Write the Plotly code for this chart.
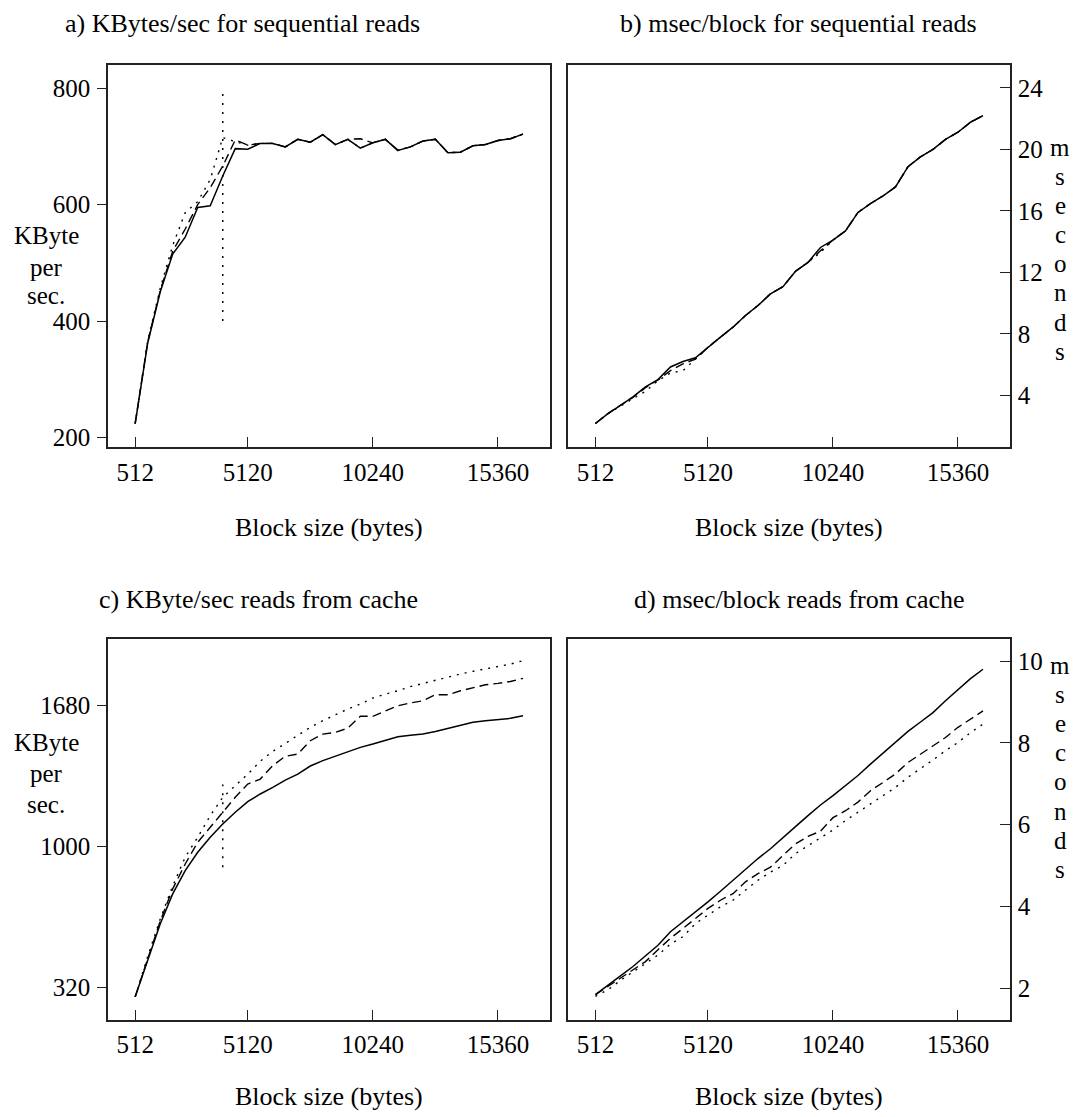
import plotly.graph_objects as go

# ---------------- data ----------------
block_sizes = [512, 1024, 1536, 2048, 2560, 3072, 3584, 4096, 4608, 5120, 5632, 6144,
               6656, 7168, 7680, 8192, 8704, 9216, 9728, 10240, 10752, 11264, 11776,
               12288, 12800, 13312, 13824, 14336, 14848, 15360, 15872, 16384]

# a) KBytes/sec for sequential reads
a_solid = [224, 362, 450, 515, 544, 595, 598, 649, 696, 695, 705, 705, 699, 712, 707, 720,
           703, 712, 697, 706, 712, 693, 699, 709, 712, 689, 690, 701, 703, 710, 713, 721]
a_dash = [224, 364, 452, 520, 558, 600, 629, 666, 711, 702, 705, 705, 699, 712, 707, 720,
          703, 712, 713, 706, 712, 693, 699, 709, 712, 689, 690, 701, 703, 710, 713, 721]
a_dot = [224, 366, 456, 530, 586, 605, 643, 715, 708, 702, 705, 705, 699, 712, 707, 720,
         703, 712, 697, 706, 712, 693, 699, 709, 712, 689, 690, 701, 703, 710, 713, 721]

# b) msec/block for sequential reads
b_solid = [2.16, 2.81, 3.35, 3.89, 4.54, 5.02, 5.84, 6.20, 6.44, 7.14, 7.78, 8.43, 9.19, 9.84,
           10.60, 11.07, 12.07, 12.65, 13.62, 14.10, 14.70, 15.90, 16.48, 16.97, 17.56, 18.88,
           19.52, 20.00, 20.65, 21.12, 21.77, 22.20]
b_dash = [2.16, 2.81, 3.35, 3.86, 4.50, 5.00, 5.60, 6.05, 6.35, 7.12, 7.78, 8.43, 9.19, 9.84,
          10.60, 11.07, 12.07, 12.65, 13.40, 14.10, 14.70, 15.90, 16.48, 16.97, 17.56, 18.88,
          19.52, 20.00, 20.65, 21.12, 21.77, 22.20]
b_dot = [2.16, 2.80, 3.30, 3.80, 4.25, 4.95, 5.45, 5.60, 6.35, 7.12, 7.78, 8.43, 9.19, 9.84,
         10.60, 11.07, 12.07, 12.65, 13.30, 14.10, 14.70, 15.90, 16.48, 16.97, 17.56, 18.88,
         19.52, 20.00, 20.65, 21.12, 21.77, 22.20]

# c) KByte/sec reads from cache
c_solid = [275, 450, 627, 772, 884, 973, 1045, 1109, 1166, 1217, 1254, 1286, 1321, 1350, 1389,
           1415, 1436, 1458, 1479, 1495, 1514, 1530, 1538, 1543, 1556, 1571, 1584, 1600, 1608,
           1612, 1619, 1632]
c_dash = [275, 460, 640, 796, 916, 1021, 1093, 1170, 1238, 1302, 1326, 1391, 1436, 1447, 1511,
          1543, 1551, 1572, 1629, 1629, 1656, 1680, 1693, 1704, 1733, 1733, 1752, 1768, 1781,
          1788, 1797, 1812]
c_dot = [275, 470, 650, 810, 949, 1045, 1149, 1238, 1294, 1350, 1412, 1460, 1498, 1539, 1576,
         1608, 1637, 1664, 1688, 1717, 1736, 1752, 1772, 1788, 1804, 1817, 1833, 1846, 1857,
         1868, 1881, 1897]

# d) msec/block reads from cache
d_solid = [1.84, 2.08, 2.30, 2.53, 2.79, 3.05, 3.38, 3.62, 3.87, 4.11, 4.37, 4.64, 4.92, 5.17,
           5.41, 5.67, 5.95, 6.22, 6.48, 6.71, 6.95, 7.20, 7.48, 7.75, 8.01, 8.28, 8.51, 8.74,
           9.03, 9.31, 9.57, 9.80]
d_dash = [1.84, 2.04, 2.24, 2.45, 2.65, 2.94, 3.22, 3.46, 3.70, 3.95, 4.15, 4.31, 4.60, 4.80,
          4.96, 5.25, 5.53, 5.71, 5.84, 6.17, 6.34, 6.55, 6.83, 7.03, 7.24, 7.52, 7.73, 7.93,
          8.13, 8.38, 8.58, 8.78]
d_dot = [1.80, 1.96, 2.19, 2.40, 2.61, 2.81, 3.08, 3.26, 3.58, 3.79, 3.99, 4.15, 4.40, 4.64,
         4.84, 5.00, 5.29, 5.49, 5.69, 5.87, 6.10, 6.30, 6.51, 6.71, 6.91, 7.16, 7.36, 7.58,
         7.81, 8.01, 8.25, 8.46]

# vertical dotted marker at 4096 bytes
marker_x = [4096, 4096]
marker_a = [400, 800]
marker_c = [900, 1300]

x_ticks = [512, 5120, 10240, 15360]
x_ticktext = ["512", "5120", "10240", "15360"]
a_ticks = [200, 400, 600, 800]
b_ticks = [4, 8, 12, 16, 20, 24]
c_ticks = [320, 1000, 1680]
d_ticks = [2, 4, 6, 8, 10]

titles = ["a) KBytes/sec for sequential reads", "b) msec/block for sequential reads",
          "c) KByte/sec reads from cache", "d) msec/block reads from cache"]
x_title = "Block size (bytes)"
left_label = ["KByte", "per", "sec."]
right_label = ["m", "s", "e", "c", "o", "n", "d", "s"]

# ---------------- figure ----------------
W, H = 1078, 1117
FONT = "Liberation Serif"
INK = "#000000"


def px(x):
    return x / W


def py(y):
    return 1 - y / H


fig = go.Figure()

solid_style = dict(color=INK, width=1.5)
dash_style = dict(color=INK, width=1.4, dash="9px,5px")
dot_style = dict(color=INK, width=1.4, dash="2px,6px")
vdot_style = dict(color=INK, width=1.5, dash="2px,7px")

panels = [
    ("x", "y", a_solid, a_dash, a_dot),
    ("x2", "y2", b_solid, b_dash, b_dot),
    ("x3", "y3", c_solid, c_dash, c_dot),
    ("x4", "y4", d_solid, d_dash, d_dot),
]
for xa, ya, s, dsh, dt in panels:
    fig.add_trace(go.Scatter(x=block_sizes, y=dt, mode="lines", line=dot_style,
                             xaxis=xa, yaxis=ya, showlegend=False, hoverinfo="skip"))
    fig.add_trace(go.Scatter(x=block_sizes, y=dsh, mode="lines", line=dash_style,
                             xaxis=xa, yaxis=ya, showlegend=False, hoverinfo="skip"))
    fig.add_trace(go.Scatter(x=block_sizes, y=s, mode="lines", line=solid_style,
                             xaxis=xa, yaxis=ya, showlegend=False, hoverinfo="skip"))

fig.add_trace(go.Scatter(x=marker_x, y=marker_a, mode="lines", line=vdot_style,
                         xaxis="x", yaxis="y", showlegend=False, hoverinfo="skip"))
fig.add_trace(go.Scatter(x=marker_x, y=marker_c, mode="lines", line=vdot_style,
                         xaxis="x3", yaxis="y3", showlegend=False, hoverinfo="skip"))

LEFT_X = [108, 550]
RIGHT_X = [568.3, 1010]
TOP_Y = [65, 448.5]
BOT_Y = [641.7, 1023.3]

common_axis = dict(showline=True, mirror=True, linecolor="#222222", linewidth=1.5,
                   showgrid=False, zeroline=False, tickcolor="#222222", tickwidth=1.3,
                   tickfont=dict(family=FONT, size=25, color=INK))

xr = [-600, 17490]


def xaxis(dom, anchor):
    return dict(common_axis, domain=[px(dom[0]), px(dom[1])], range=xr, anchor=anchor,
                tickvals=x_ticks, ticktext=x_ticktext, ticks="inside", ticklen=10,
                ticklabelstandoff=2)


def yaxis(dom, anchor, rng, tv, side):
    d = dict(common_axis, domain=[py(dom[1]), py(dom[0])], range=rng, anchor=anchor,
             tickvals=tv, side=side)
    if side == "left":
        d.update(ticks="outside", ticklen=9, ticklabelstandoff=2)
    else:
        d.update(ticks="inside", ticklen=10, ticklabelstandoff=1)
    return d


fig.update_layout(
    width=W, height=H,
    margin=dict(l=0, r=0, t=0, b=0),
    paper_bgcolor="white", plot_bgcolor="white",
    font=dict(family=FONT, color=INK),
    xaxis=xaxis(LEFT_X, "y"),
    yaxis=yaxis(TOP_Y, "x", [184, 840], a_ticks, "left"),
    xaxis2=xaxis(RIGHT_X, "y2"),
    yaxis2=yaxis(TOP_Y, "x2", [0.64, 25.51], b_ticks, "right"),
    xaxis3=xaxis(LEFT_X, "y3"),
    yaxis3=yaxis(BOT_Y, "x3", [165, 2000], c_ticks, "left"),
    xaxis4=xaxis(RIGHT_X, "y4"),
    yaxis4=yaxis(BOT_Y, "x4", [1.23, 10.53], d_ticks, "right"),
)

ann = []


def text(x, y, s, size=26, xanchor="center"):
    ann.append(dict(x=px(x), y=py(y), xref="paper", yref="paper", text=s, showarrow=False,
                    xanchor=xanchor, yanchor="middle",
                    font=dict(family=FONT, size=size, color=INK)))


# panel titles
text(63, 24, titles[0], xanchor="left")
text(618, 24, titles[1], xanchor="left")
text(97, 602, titles[2], xanchor="left")
text(632, 602, titles[3], xanchor="left")

# x axis titles
for cx in [(LEFT_X[0] + LEFT_X[1]) / 2, (RIGHT_X[0] + RIGHT_X[1]) / 2]:
    text(cx, 529, x_title)
    text(cx, 1100, x_title)

# left stacked labels
for i, s in enumerate(left_label):
    text(46, [236, 268, 297][i], s, size=25)
    text(46, [745, 776, 807][i], s, size=25)

# right stacked letters
for i, s in enumerate(right_label):
    text(1060, 148 + i * 29.2, s, size=25)
    text(1060, 668 + i * 29.2, s, size=25)

fig.update_layout(annotations=ann)

fig.write_html("out.html", config={"displayModeBar": False},
               post_script="document.body.style.margin='0';document.body.style.overflow='hidden';")
